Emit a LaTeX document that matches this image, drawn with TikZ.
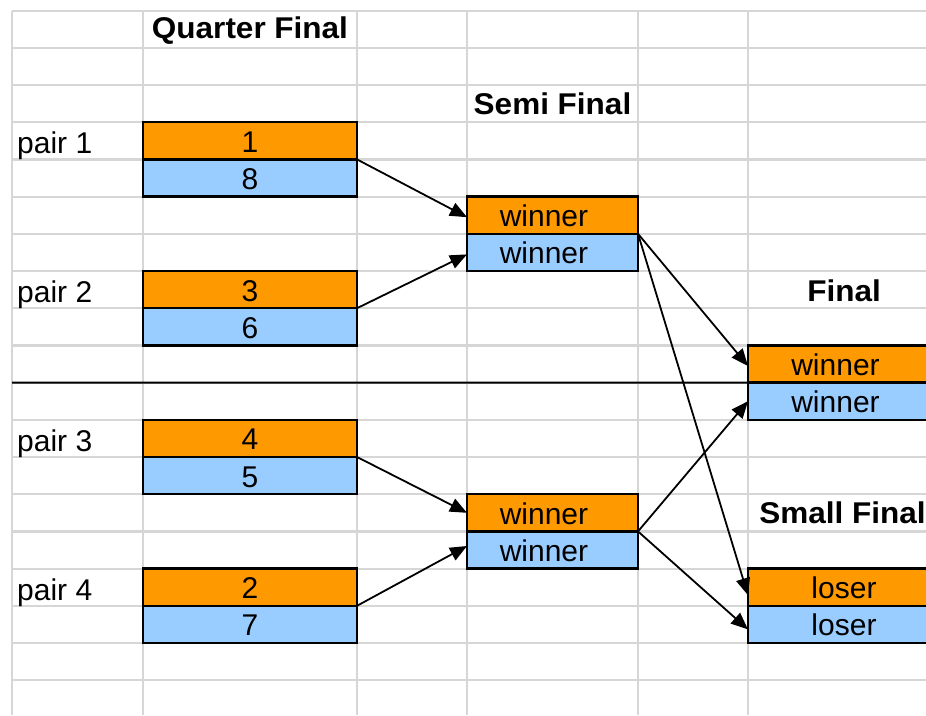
\documentclass[tikz,border=0pt]{standalone}
\usepackage{fontspec}
\setmainfont{Liberation Sans}
\newfontfamily\headfont[FakeStretch=1.05]{Liberation Sans}
\usetikzlibrary{arrows.meta}
\definecolor{cellorange}{RGB}{255,153,0}
\definecolor{cellblue}{RGB}{153,204,255}
\definecolor{gridgray}{RGB}{214,214,214}
% text in the winner cells sits a little left of the cell centre
\newcommand{\wintext}{winner\hspace*{17pt}}

\begin{document}
\begin{tikzpicture}[x=1pt,y=-1pt,
  gridline/.style={draw=gridgray, line width=2.2pt},
  cell/.style={draw=black, line width=2.4pt, outer sep=0pt, inner sep=0pt,
    minimum height=37.2pt, anchor=north west, text height=30pt, text depth=7.2pt,
    font=\fontsize{30}{36}\selectfont},
  orangecell/.style={cell, fill=cellorange},
  bluecell/.style={cell, fill=cellblue},
  qfw/.style={minimum width=214pt},
  sfw/.style={minimum width=171pt},
  fw/.style={minimum width=192pt},
  pairtext/.style={anchor=base west, inner sep=0pt, font=\fontsize{30}{36}\selectfont},
  headtext/.style={anchor=base, inner sep=0pt, font=\headfont\bfseries\fontsize{30}{36}\selectfont},
  link/.style={line width=1.8pt, -{Triangle[length=17pt,width=14pt]}},
]
\useasboundingbox (0,0) rectangle (926,715);
\clip (0,0) rectangle (926,715);

% spreadsheet grid
\foreach \k in {0,...,18}
  \draw[gridline] (12,{10.6+37.2*\k}) -- (926,{10.6+37.2*\k});
\foreach \x in {12,143,357,467,638,748}
  \draw[gridline] (\x,10.6) -- (\x,715);

% headings
\node[headtext] (hqf) at (250,38.5) {Quarter Final};
\node[headtext] (hsf) at (552.5,114) {Semi Final};
\node[headtext] (hf)  at (844,301) {Final};
\node[headtext] (hsm) at (842.5,523) {Small Final};

% pair labels
\node[pairtext] (p1) at (17,153) {pair 1};
\node[pairtext] (p2) at (17,302) {pair 2};
\node[pairtext] (p3) at (17,451) {pair 3};
\node[pairtext] (p4) at (17,600) {pair 4};

% line between the two halves of the draw
\coordinate (divl) at (12,382.6);

% quarter finals
\node[orangecell, qfw] (q1a) at (143,122.2) {1};
\node[bluecell,   qfw] (q1b) at (143,159.4) {8};
\node[orangecell, qfw] (q2a) at (143,271)   {3};
\node[bluecell,   qfw] (q2b) at (143,308.2) {6};
\node[orangecell, qfw] (q3a) at (143,419.8) {4};
\node[bluecell,   qfw] (q3b) at (143,457)   {5};
\node[orangecell, qfw] (q4a) at (143,568.6) {2};
\node[bluecell,   qfw] (q4b) at (143,605.8) {7};

% semi finals
\node[orangecell, sfw] (s1a) at (467,196.6) {\wintext};
\node[bluecell,   sfw] (s1b) at (467,233.8) {\wintext};
\node[orangecell, sfw] (s2a) at (467,494.2) {\wintext};
\node[bluecell,   sfw] (s2b) at (467,531.4) {\wintext};

% final and small final
\node[orangecell, fw] (fa)  at (748,345.4) {\wintext};
\node[bluecell,   fw] (fb)  at (748,382.6) {\wintext};
\node[orangecell, fw] (sma) at (748,568.6) {loser};
\node[bluecell,   fw] (smb) at (748,605.8) {loser};

\draw[line width=2pt] (divl) -- (fa.south west);

% progress through the rounds
\draw[link] (q1a.south east) -- ([yshift=-2pt]s1a.west);
\draw[link] (q2a.south east) -- ([yshift=-2pt]s1b.west);
\draw[link] (q3a.south east) -- (s2a.west);
\draw[link] (q4a.south east) -- ([yshift=4pt]s2b.west);
\draw[link] (s1a.south east) -- ([yshift=-2pt]fa.west);
\draw[link] (s1a.south east) -- ([yshift=-8pt]sma.west);
\draw[link] (s2a.south east) -- (fb.west);
\draw[link] (s2a.south east) -- ([yshift=-5pt]smb.west);
\end{tikzpicture}
\end{document}
